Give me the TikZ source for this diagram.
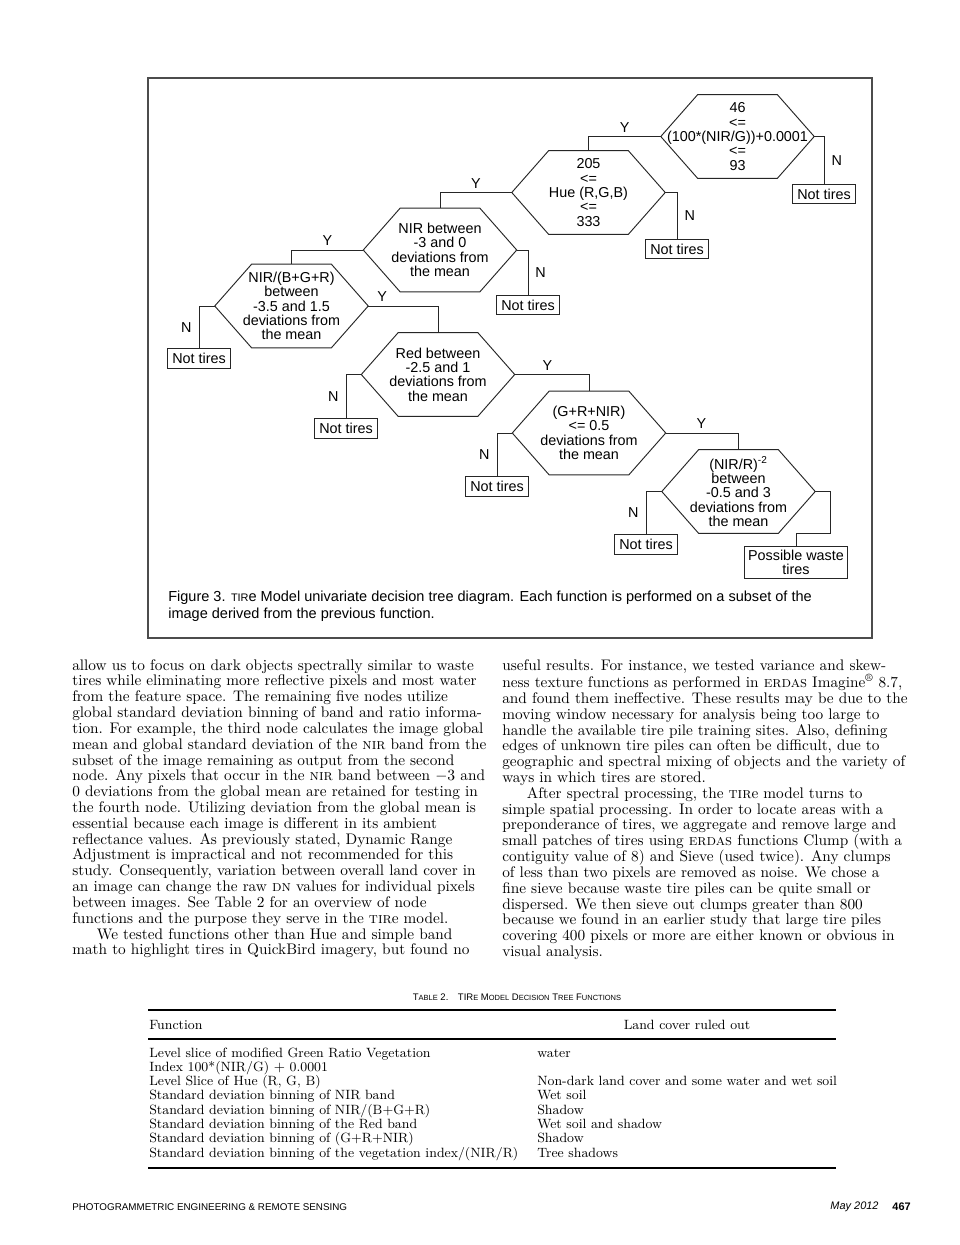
\documentclass[tikz,border=0pt]{standalone}
\usepackage{fontspec}
\newfontfamily\diagfont{Liberation Sans}
\usetikzlibrary{positioning, calc}
\newcommand{\smc}[1]{{\fontsize{4.8}{5}\selectfont #1}}

\begin{document}
\begin{tikzpicture}[
    x=0.0225cm, y=-0.0225cm,
    line/.style={draw=black!85, line width=0.6pt},
    frame/.style={draw=black!70, line width=0.9pt},
    hexnode/.style={minimum width=3.44cm, minimum height=1.87cm, inner sep=0pt,
        align=center, font={\diagfont\fontsize{9.2}{9.2}\selectfont}},
    notbox/.style={line, minimum width=1.4cm, minimum height=0.43cm, inner sep=1pt,
        font={\diagfont\fontsize{9.2}{9.2}\selectfont}},
    yn/.style={inner xsep=4.5pt, inner ysep=2.5pt, font={\diagfont\fontsize{9.2}{9}\selectfont}},
    body/.style={anchor=north west, align=left, inner sep=0pt,
        font={\fontsize{9.8}{10.13}\selectfont}},
    cell/.style={anchor=base west, inner sep=0pt, font={\fontsize{8.6}{9}\selectfont}},
]
\useasboundingbox (0,0) rectangle (960,1245);
\fill[white] (0,0) rectangle (960,1245);

% figure frame
\draw[frame] (148,78) rectangle (872,638);

% decision nodes
\node[hexnode] (h1) at (737.5,136.5) {46\\<=\\(100*(NIR/G))+0.0001\\<=\\93};
\node[hexnode] (h2) at (588.5,192.5) {205\\<=\\Hue (R,G,B)\\<=\\333};
\node[hexnode] (h3) at (440,250) {NIR between\\-3 and 0\\deviations from\\the mean};
\node[hexnode] (h4) at (291.5,306) {NIR/(B+G+R)\\between\\-3.5 and 1.5\\deviations from\\the mean};
\node[hexnode] (h5) at (438,374.5) {Red between\\-2.5 and 1\\deviations from\\the mean};
\node[hexnode] (h6) at (589,433) {(G+R+NIR)\\<= 0.5\\deviations from\\the mean};
\node[hexnode] (h7) at (738.5,491.5) {(NIR/R)\textsuperscript{-2}\\between\\-0.5 and 3\\deviations from\\the mean};

\foreach \h in {h1,h2,h3,h4,h5,h6,h7}
    \draw[line] (\h.west) -- ([xshift=0.83cm]\h.north west) -- ([xshift=-0.83cm]\h.north east)
        -- (\h.east) -- ([xshift=-0.83cm]\h.south east) -- ([xshift=0.83cm]\h.south west) -- cycle;

% leaves
\node[notbox] (n1) at (824,194) {Not tires};
\node[notbox] (n2) at (677,249) {Not tires};
\node[notbox] (n3) at (528,305) {Not tires};
\node[notbox] (n4) at (199,358.5) {Not tires};
\node[notbox] (n5) at (346,428.5) {Not tires};
\node[notbox] (n6) at (497,486.5) {Not tires};
\node[notbox] (n7) at (646,544.5) {Not tires};
\node[notbox, minimum width=2.3cm, minimum height=0.74cm, align=center] (pw) at (796,562.5) {Possible waste\\tires};

% yes branches
\draw[line] (h1.west) -| node[yn, pos=0.25, above] {Y} (h2.north);
\draw[line] (h2.west) -| node[yn, pos=0.25, above] {Y} (h3.north);
\draw[line] (h3.west) -| node[yn, pos=0.25, above] {Y} (h4.north);
\draw[line] (h4.east) -| node[yn, pos=0.1, above] {Y} (h5.north);
\draw[line] (h5.east) -| node[yn, pos=0.22, above] {Y} (h6.north);
\draw[line] (h6.east) -| node[yn, pos=0.245, above] {Y} (h7.north);
\draw[line] (h7.east) -- ++(15,0) |- (h7.south -| pw.north) -- (pw.north);

% no branches
\draw[line] (h1.east) -| node[yn, pos=0.75, right] {N} (n1.north);
\draw[line] (h2.east) -| node[yn, pos=0.75, right] {N} (n2.north);
\draw[line] (h3.east) -| node[yn, pos=0.75, right] {N} (n3.north);
\draw[line] (h4.west) -| node[yn, pos=0.75, left] {N} (n4.north);
\draw[line] (h5.west) -| node[yn, pos=0.75, left] {N} (n5.north);
\draw[line] (h6.west) -| node[yn, pos=0.75, left] {N} (n6.north);
\draw[line] (h7.west) -| node[yn, pos=0.75, left] {N} (n7.north);

% caption
\node[anchor=north west, align=left, inner sep=0pt, font={\diagfont\fontsize{9.3}{10.9}\selectfont}] (cap) at (168,591)
    {Figure 3. {\fontsize{7}{6}\selectfont TIR}e Model univariate decision tree diagram. Each function is performed on a subset of the\\
     image derived from the previous function.};

% text columns
\node[body] (colL) at (72,659) {%
allow us to focus on dark objects spectrally similar to waste\\
tires while eliminating more reflective pixels and most water\\
from the feature space. The remaining five nodes utilize\\
global standard deviation binning of band and ratio informa-\\
tion. For example, the third node calculates the image global\\
mean and global standard deviation of the \textsc{nir} band from the\\
subset of the image remaining as output from the second\\
node. Any pixels that occur in the \textsc{nir} band between $-3$ and\\
0 deviations from the global mean are retained for testing in\\
the fourth node. Utilizing deviation from the global mean is\\
essential because each image is different in its ambient\\
reflectance values. As previously stated, Dynamic Range\\
Adjustment is impractical and not recommended for this\\
study. Consequently, variation between overall land cover in\\
an image can change the raw \textsc{dn} values for individual pixels\\
between images. See Table 2 for an overview of node\\
functions and the purpose they serve in the \textsc{tir}e model.\\
\hspace*{1.6em}We tested functions other than Hue and simple band\\
math to highlight tires in QuickBird imagery, but found no};

\node[body] (colR) at (502,659) {%
useful results. For instance, we tested variance and skew-\\
ness texture functions as performed in \textsc{erdas} Imagine\textsuperscript{\textregistered} 8.7,\\
and found them ineffective. These results may be due to the\\
moving window necessary for analysis being too large to\\
handle the available tire pile training sites. Also, defining\\
edges of unknown tire piles can often be difficult, due to\\
geographic and spectral mixing of objects and the variety of\\
ways in which tires are stored.\\
\hspace*{1.6em}After spectral processing, the \textsc{tir}e model turns to\\
simple spatial processing. In order to locate areas with a\\
preponderance of tires, we aggregate and remove large and\\
small patches of tires using \textsc{erdas} functions Clump (with a\\
contiguity value of 8) and Sieve (used twice). Any clumps\\
of less than two pixels are removed as noise. We chose a\\
fine sieve because waste tire piles can be quite small or\\
dispersed. We then sieve out clumps greater than 800\\
because we found in an earlier study that large tire piles\\
covering 400 pixels or more are either known or obvious in\\
visual analysis.};

% table
\node[font={\diagfont\fontsize{6.1}{7}\selectfont}] (ttl) at (517,997)
    {T\smc{ABLE} 2.\quad TIR\smc{E} M\smc{ODEL} D\smc{ECISION} T\smc{REE} F\smc{UNCTIONS}};
\draw[line width=1.2pt] (148,1010) -- (836,1010);
\node[cell] (hf) at (149,1029) {Function};
\node[cell, anchor=base] (hl) at (687,1029) {Land cover ruled out};
\draw[line width=0.7pt] (148,1039) -- (836,1039);
\foreach \fn/\lc [count=\i from 0] in {%
    {Level slice of modified Green Ratio Vegetation}/{water},
    {Index 100*(NIR/G) $+$ 0.0001}/{},
    {Level Slice of Hue (R, G, B)}/{Non-dark land cover and some water and wet soil},
    {Standard deviation binning of NIR band}/{Wet soil},
    {Standard deviation binning of NIR/(B+G+R)}/{Shadow},
    {Standard deviation binning of the Red band}/{Wet soil and shadow},
    {Standard deviation binning of (G+R+NIR)}/{Shadow},
    {Standard deviation binning of the vegetation index/(NIR/R)}/{Tree shadows}%
}{
    \node[cell] (f\i) at (149,{1057+14.3*\i}) {\fn};
    \node[cell] (l\i) at (537,{1057+14.3*\i}) {\lc};
}
\draw[line width=1.2pt] (148,1168) -- (836,1168);

% running foot
\node[anchor=west, inner sep=0pt, font={\diagfont\fontsize{6.3}{7}\selectfont}] (jn) at (72,1207)
    {PHOTOGRAMMETRIC ENGINEERING \& REMOTE SENSING};
\node[anchor=east, inner sep=0pt, font={\diagfont\bfseries\fontsize{7}{8}\selectfont}] (pg) at (911,1207) {467};
\node[inner sep=0pt, font={\diagfont\itshape\fontsize{7}{8}\selectfont}, left=0.3cm of pg] (dt) {May 2012};

\end{tikzpicture}
\end{document}
